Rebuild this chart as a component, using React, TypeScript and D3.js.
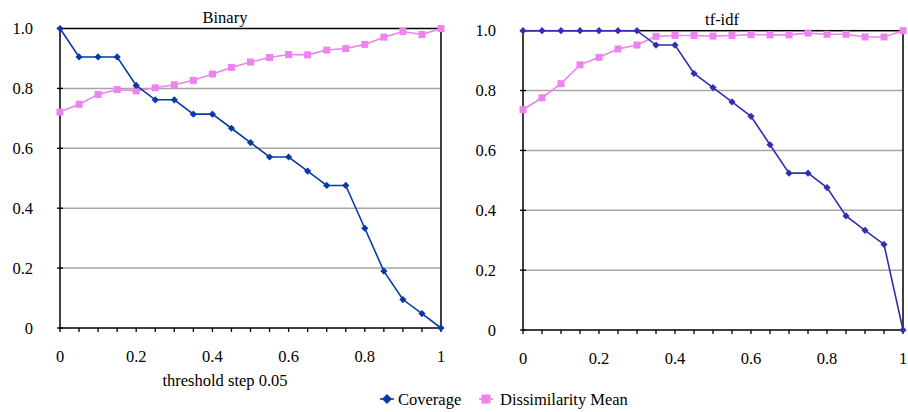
import React from "react";
import * as d3 from "d3";

const thresholds = [0, 0.05, 0.1, 0.15, 0.2, 0.25, 0.3, 0.35, 0.4, 0.45, 0.5, 0.55, 0.6, 0.65, 0.7, 0.75, 0.8, 0.85, 0.9, 0.95, 1];

const binaryCoverage = [1.0, 0.905, 0.905, 0.905, 0.81, 0.762, 0.762, 0.714, 0.714, 0.667, 0.619, 0.571, 0.571, 0.524, 0.476, 0.476, 0.333, 0.19, 0.095, 0.048, 0];
const binaryDissim = [0.721, 0.747, 0.78, 0.796, 0.792, 0.802, 0.812, 0.827, 0.848, 0.87, 0.888, 0.903, 0.913, 0.912, 0.928, 0.933, 0.947, 0.971, 0.99, 0.98, 1.0];

const tfidfCoverage = [1, 1, 1, 1, 1, 1, 1, 0.952, 0.952, 0.857, 0.81, 0.762, 0.714, 0.619, 0.524, 0.524, 0.476, 0.381, 0.333, 0.286, 0];
const tfidfDissim = [0.736, 0.776, 0.823, 0.886, 0.911, 0.939, 0.952, 0.981, 0.984, 0.984, 0.982, 0.984, 0.987, 0.986, 0.986, 0.992, 0.988, 0.988, 0.979, 0.979, 1.0];

const xTickLabels = [0, 0.2, 0.4, 0.6, 0.8, 1];
const yTickValues = [0, 0.2, 0.4, 0.6, 0.8, 1.0];
const yTickLabels = ["0", "0.2", "0.4", "0.6", "0.8", "1.0"];

const seriesNames = ["Coverage", "Dissimilarity Mean"];

const FONT_STYLE: React.CSSProperties = {
  fontFamily: '"Liberation Serif", "DejaVu Serif", "Times New Roman", Times, serif',
  fontSize: "16.5px",
};
const MAGENTA = "#ee82ee";

type PanelProps = {
  title: string;
  titleX: number;
  left: number;
  right: number;
  top: number;
  bottom: number;
  coverage: number[];
  dissim: number[];
  covColor: string;
  xLabel?: string;
};

function Panel({ title, titleX, left, right, top, bottom, coverage, dissim, covColor, xLabel }: PanelProps) {
  const x = d3.scaleLinear().domain([0, 1]).range([left, right]);
  const y = d3.scaleLinear().domain([0, 1]).range([bottom, top]);
  const line = d3
    .line<number>()
    .x((_, i) => x(thresholds[i]))
    .y((d) => y(d));
  const diamond = (cx: number, cy: number, r: number) =>
    `M${cx},${cy - r}L${cx + r},${cy}L${cx},${cy + r}L${cx - r},${cy}Z`;
  return (
    <g>
      {yTickValues
        .filter((v) => v > 0 && v < 1)
        .map((v) => (
          <line key={"g" + v} x1={left} x2={right} y1={y(v)} y2={y(v)} stroke="#a6a6a6" strokeWidth={1.5} />
        ))}
      <rect x={left} y={top} width={right - left} height={bottom - top} fill="none" stroke="#000" strokeWidth={1.5} />
      {thresholds.map((t) => (
        <line key={"xt" + t} x1={x(t)} x2={x(t)} y1={bottom} y2={bottom + 4} stroke="#000" strokeWidth={1.3} />
      ))}
      {yTickValues.map((v) => (
        <line key={"yt" + v} x1={left - 3} x2={left + 3} y1={y(v)} y2={y(v)} stroke="#000" strokeWidth={1.3} />
      ))}
      {yTickValues.map((v, i) => (
        <text key={"yl" + v} x={left - 27} y={y(v)} dy="0.35em" textAnchor="end" style={FONT_STYLE} fill="#000">
          {yTickLabels[i]}
        </text>
      ))}
      {xTickLabels.map((v) => (
        <text key={"xl" + v} x={x(v)} y={bottom + 28} dy="0.35em" textAnchor="middle" style={FONT_STYLE} fill="#000">
          {String(v)}
        </text>
      ))}
      <text x={titleX} y={top - 11} dy="0.35em" textAnchor="middle" style={FONT_STYLE} fill="#000">
        {title}
      </text>
      {xLabel && (
        <text x={titleX} y={bottom + 52} dy="0.35em" textAnchor="middle" style={FONT_STYLE} fill="#000">
          {xLabel}
        </text>
      )}
      <path d={line(dissim) || ""} fill="none" stroke={MAGENTA} strokeWidth={1.6} />
      {dissim.map((d, i) => (
        <rect key={"s" + i} x={x(thresholds[i]) - 3.5} y={y(d) - 3.5} width={7} height={7} fill={MAGENTA} />
      ))}
      <path d={line(coverage) || ""} fill="none" stroke={covColor} strokeWidth={1.6} />
      {coverage.map((d, i) => (
        <path key={"d" + i} d={diamond(x(thresholds[i]), y(d), 3.6)} fill={covColor} />
      ))}
    </g>
  );
}

export default function App() {
  const legendY = 399;
  return (
    <svg width={908} height={412} style={{ position: "absolute", left: 0, top: 0, background: "#fff" }}>
      <rect width={908} height={412} fill="#fff" />
      <Panel
        title="Binary"
        titleX={225}
        left={60}
        right={441}
        top={28.5}
        bottom={328}
        coverage={binaryCoverage}
        dissim={binaryDissim}
        covColor="#0a3aa5"
        xLabel="threshold step 0.05"
      />
      <Panel
        title="tf-idf"
        titleX={722}
        left={523}
        right={903}
        top={30.7}
        bottom={330}
        coverage={tfidfCoverage}
        dissim={tfidfDissim}
        covColor="#3030b0"
      />
      <g>
        <line x1={380} x2={394} y1={legendY} y2={legendY} stroke="#0a3aa5" strokeWidth={1.6} />
        <path d={`M387,${legendY - 5}L392,${legendY}L387,${legendY + 5}L382,${legendY}Z`} fill="#0a3aa5" />
        <text x={398} y={legendY} dy="0.35em" style={FONT_STYLE} fill="#000">
          {seriesNames[0]}
        </text>
        <line x1={479} x2={493} y1={legendY} y2={legendY} stroke={MAGENTA} strokeWidth={1.6} />
        <rect x={481.5} y={legendY - 4.5} width={9} height={9} fill={MAGENTA} />
        <text x={500} y={legendY} dy="0.35em" style={FONT_STYLE} fill="#000">
          {seriesNames[1]}
        </text>
      </g>
    </svg>
  );
}
